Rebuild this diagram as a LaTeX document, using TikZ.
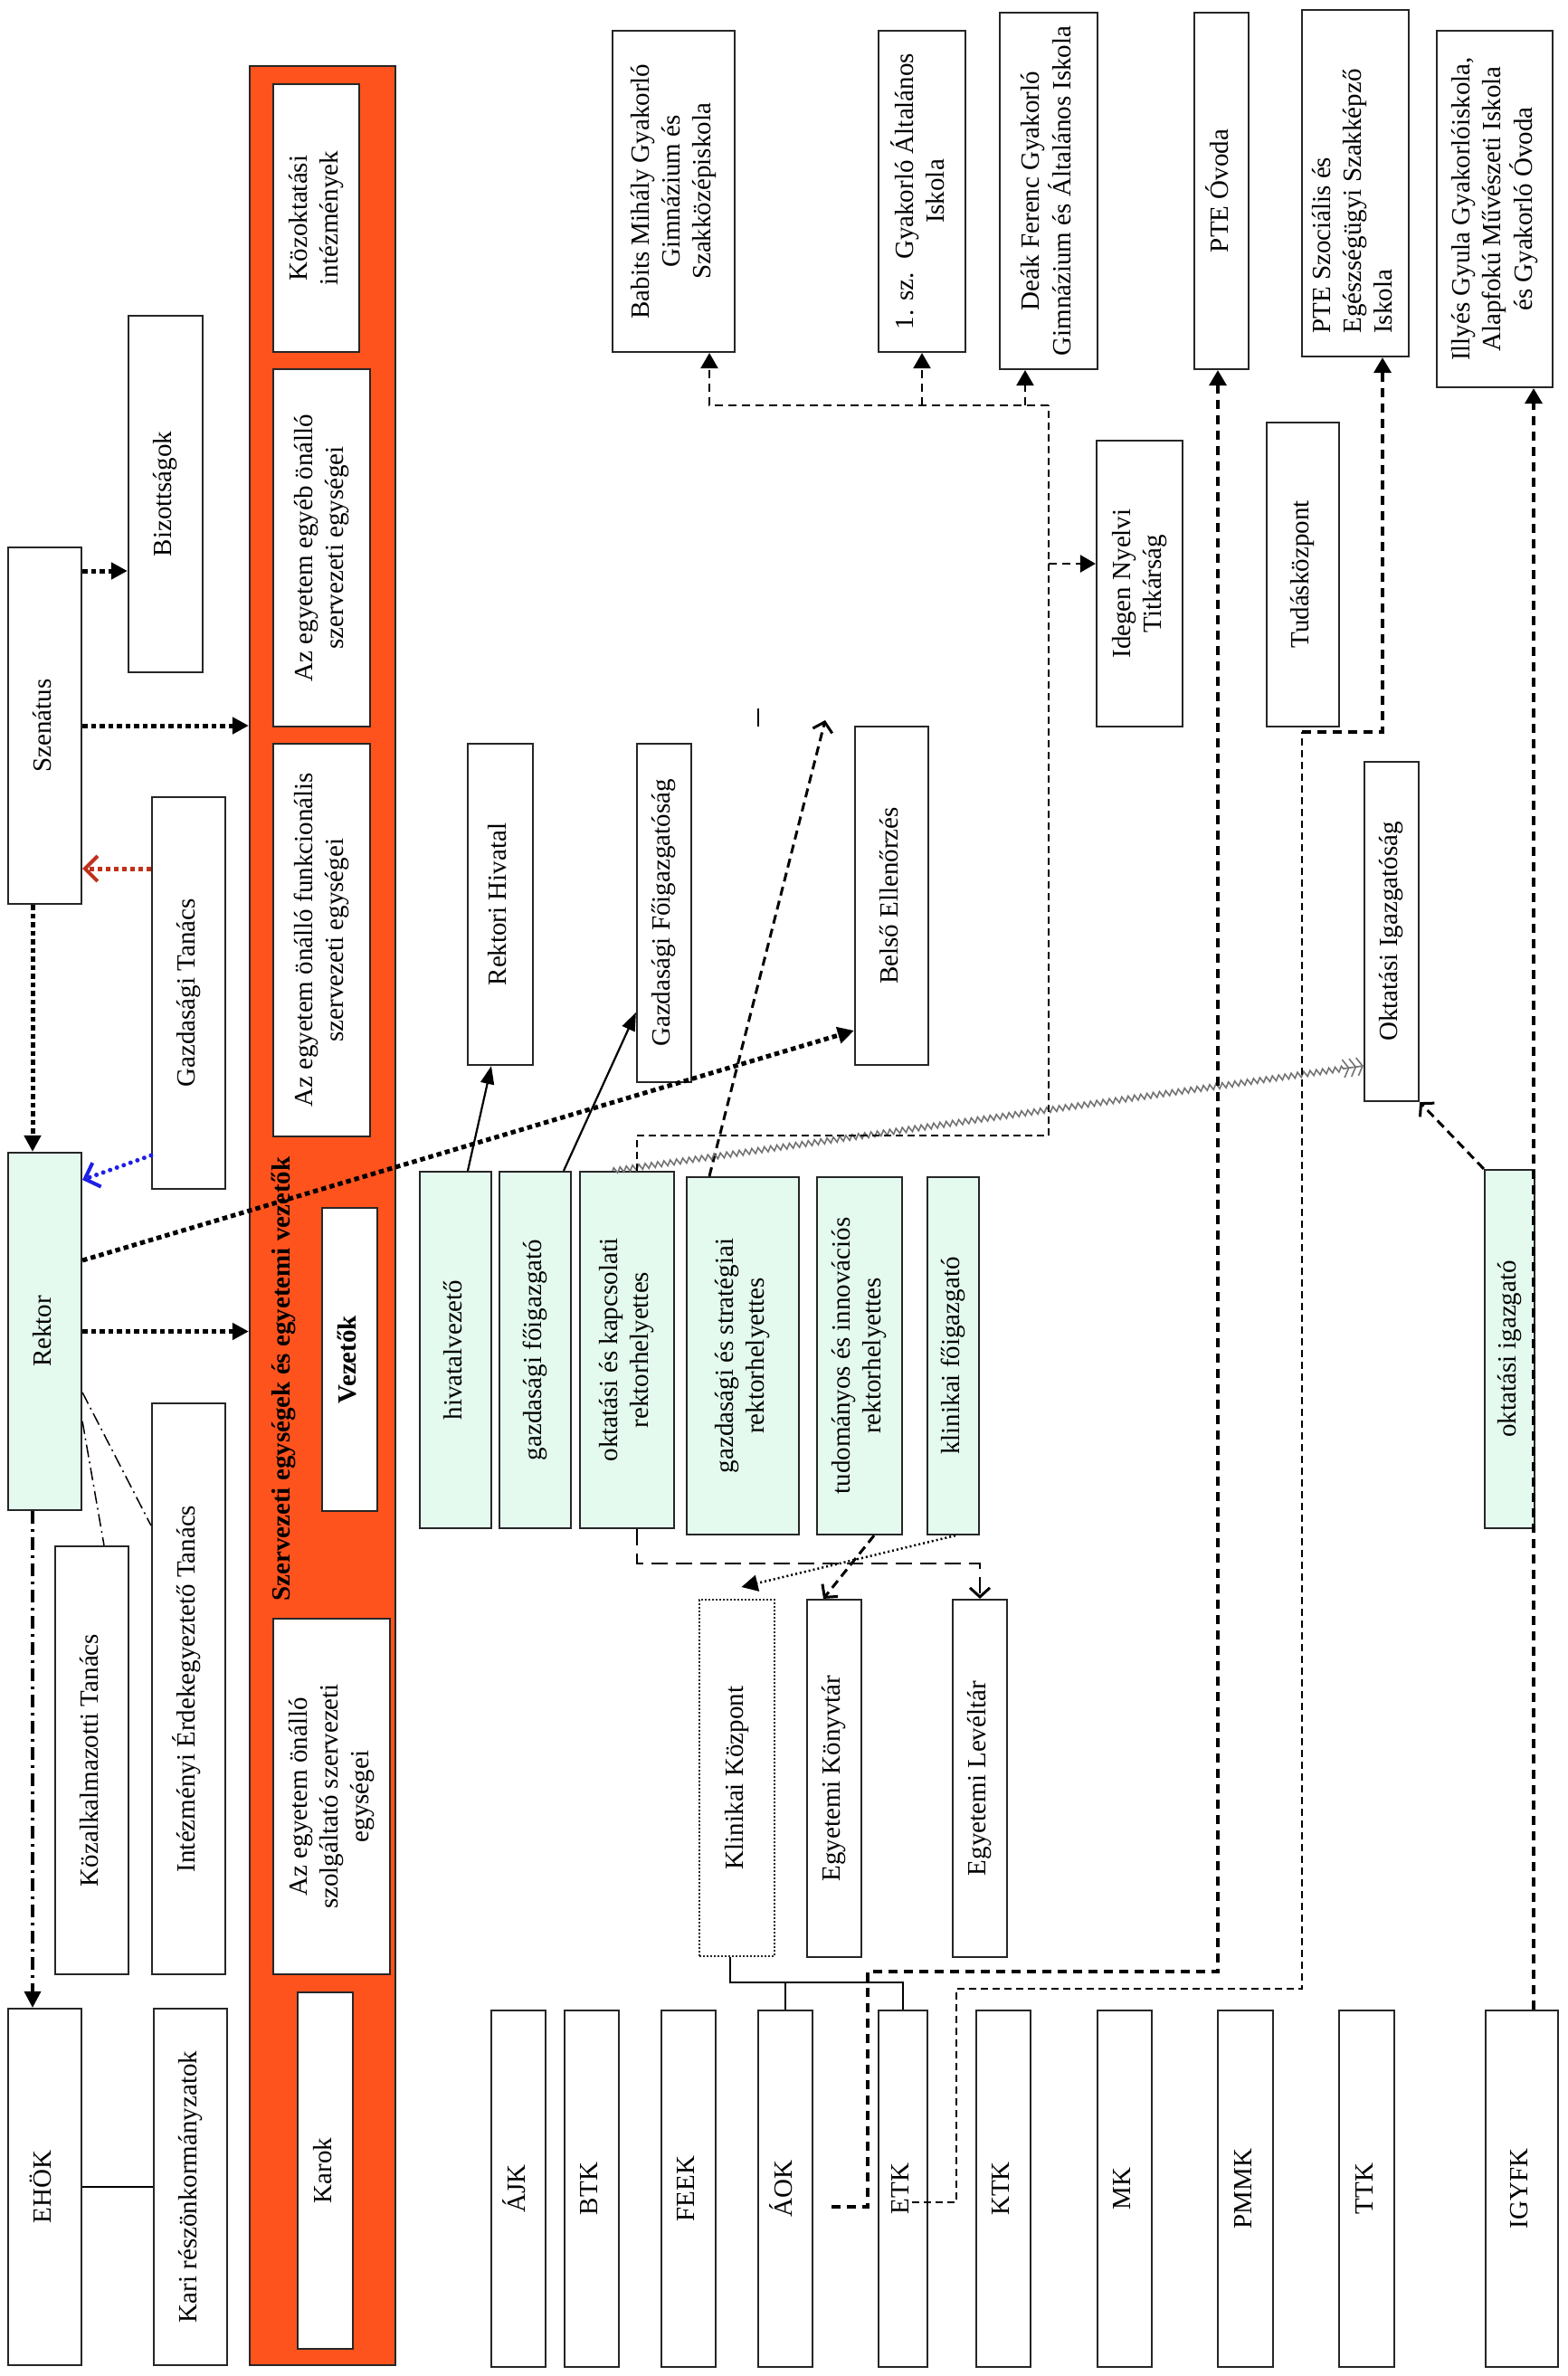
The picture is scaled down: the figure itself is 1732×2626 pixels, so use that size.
\documentclass[tikz,border=0pt]{standalone}
\usepackage{fontspec}
\setmainfont{Liberation Serif}
\usepackage{graphicx}
\usetikzlibrary{arrows.meta,calc,decorations.pathmorphing}
\definecolor{orng}{HTML}{FF531E}
\definecolor{mint}{HTML}{E4FAEF}
\definecolor{darkred}{HTML}{C0301A}
\definecolor{blu}{HTML}{1E1EE6}
\newcommand{\rt}[1]{\rotatebox{90}{\begin{tabular}{@{}c@{}}#1\end{tabular}}}
\tikzset{
  box/.style={draw=black!85, line width=2.2pt, fill=white, inner sep=0pt, rectangle, font=\fontsize{29}{34}\selectfont},
  mbox/.style={box, fill=mint},
  tdot/.style={line width=5pt, dash pattern=on 5.5pt off 4pt},
  rdot/.style={draw=darkred, line width=5pt, dash pattern=on 5pt off 4pt},
  bdot/.style={draw=blu, line width=5pt, dash pattern=on 0pt off 8pt, line cap=round},
  tri/.style={-{Triangle[length=18pt,width=18pt]}},
  stri/.style={-{Triangle[length=20pt,width=15pt]}},
  tritwo/.style={-{Triangle[length=17pt,width=19pt]}},
  rbarb/.style={-{Straight Barb[length=14pt,width=28pt,line width=4pt]}},
  bbarb/.style={-{Straight Barb[length=14pt,width=28pt,line width=4pt]}},
  vbarb/.style={-{Straight Barb[length=10pt,width=22pt,line width=3pt]}},
  dashdot/.style={line width=3.5pt, dash pattern=on 14pt off 6pt on 3pt off 6pt},
  ddd/.style={line width=1.5pt, dash pattern=on 14pt off 5pt on 2pt off 5pt},
  sol/.style={line width=2.2pt},
  dsh/.style={line width=3pt, dash pattern=on 10pt off 6pt},
  thindash/.style={line width=1.5pt, dash pattern=on 8pt off 5pt},
  meddash/.style={line width=2.5pt, dash pattern=on 9pt off 6pt},
  thkdash/.style={line width=3.5pt, dash pattern=on 10pt off 7pt},
  longdash/.style={line width=2.5pt, dash pattern=on 18pt off 9pt},
  fdot/.style={line width=2.5pt, dash pattern=on 2pt off 3pt},
  zig/.style={draw=black!55, line width=1.6pt, decoration={zigzag, amplitude=3pt, segment length=7pt, post length=20pt}, decorate,
    -{Straight Barb[length=6pt,width=20pt,line width=1.6pt] Straight Barb[length=6pt,width=20pt,line width=1.6pt] Straight Barb[length=6pt,width=20pt,line width=1.6pt]}}
}
\begin{document}
\begin{tikzpicture}[x=1pt,y=-1pt]
\useasboundingbox (0,0) rectangle (1732,2626);
% left column
\node[box, minimum width=81pt, minimum height=394pt] (sz) at (49.5,802) {\rt{Szenátus}};
\node[box, minimum width=82pt, minimum height=394pt] (biz) at (183,546) {\rt{Bizottságok}};
\node[box, minimum width=81pt, minimum height=433pt] (gt) at (208.5,1097.5) {\rt{Gazdasági Tanács}};
\node[mbox, minimum width=81pt, minimum height=395pt] (rek) at (49.5,1471.5) {\rt{Rektor}};
\node[box, minimum width=81pt, minimum height=473pt] (kt) at (101.5,1945.5) {\rt{Közalkalmazotti Tanács}};
\node[box, minimum width=81pt, minimum height=631pt] (iet) at (208.5,1866.5) {\rt{Intézményi Érdekegyeztető Tanács}};
\node[box, minimum width=81pt, minimum height=394pt] (ehok) at (49.5,2417) {\rt{EHÖK}};
\node[box, minimum width=81pt, minimum height=394pt] (kari) at (210.5,2417) {\rt{Kari részönkormányzatok}};
% orange band
\node[box, fill=orng, minimum width=161pt, minimum height=2541pt] (org) at (356.5,1343.5) {};
\node[rotate=90, anchor=base, inner sep=0pt, font=\fontsize{29}{34}\selectfont\bfseries] (ttl) at (320,1524) {Szervezeti egységek és egyetemi vezetők};
\node[box, minimum width=95pt, minimum height=296pt] (koz) at (349.5,241) {\rt{Közoktatási\\intézmények}};
\node[box, minimum width=107pt, minimum height=395pt] (egy) at (355.5,605.5) {\rt{Az egyetem egyéb önálló\\szervezeti egységei}};
\node[box, minimum width=107pt, minimum height=434pt] (fun) at (355.5,1039) {\rt{Az egyetem önálló funkcionális\\szervezeti egységei}};
\node[box, minimum width=61pt, minimum height=335pt, font=\fontsize{29}{34}\selectfont\bfseries] (vez) at (386.5,1502.5) {\rt{Vezetők}};
\node[box, minimum width=129pt, minimum height=393pt] (szo) at (366.5,1985.5) {\rt{Az egyetem önálló\\szolgáltató szervezeti\\egységei}};
\node[box, minimum width=61pt, minimum height=394pt] (kar) at (359.5,2399) {\rt{Karok}};
% middle
\node[box, minimum width=72pt, minimum height=355pt] (rh) at (553,999.5) {\rt{Rektori Hivatal}};
\node[box, minimum width=60pt, minimum height=374pt] (gfo) at (734,1009) {\rt{Gazdasági Főigazgatóság}};
\node[box, minimum width=81pt, minimum height=374pt] (bel) at (985.5,990) {\rt{Belső Ellenőrzés}};
\node[mbox, minimum width=79pt, minimum height=394pt] (hv) at (503.5,1492) {\rt{hivatalvezető}};
\node[mbox, minimum width=79pt, minimum height=394pt] (gf) at (591.5,1492) {\rt{gazdasági főigazgató}};
\node[mbox, minimum width=104pt, minimum height=394pt] (okr) at (693,1492) {\rt{oktatási és kapcsolati\\rektorhelyettes}};
\node[mbox, minimum width=124pt, minimum height=395pt] (gsr) at (821,1498.5) {\rt{gazdasági és stratégiai\\rektorhelyettes}};
\node[mbox, minimum width=94pt, minimum height=395pt] (tir) at (950,1498.5) {\rt{tudományos és innovációs\\rektorhelyettes}};
\node[mbox, minimum width=57pt, minimum height=395pt] (kf) at (1053.5,1498.5) {\rt{klinikai főigazgató}};
\node[box, line width=2pt, dash pattern=on 2pt off 2pt, minimum width=83pt, minimum height=394pt] (kk) at (814.5,1965) {\rt{Klinikai Központ}};
\node[box, minimum width=60pt, minimum height=395pt] (ek) at (922,1965.5) {\rt{Egyetemi Könyvtár}};
\node[box, minimum width=60pt, minimum height=395pt] (el) at (1083,1965.5) {\rt{Egyetemi Levéltár}};
% faculties
\node[box, minimum width=60pt, minimum height=394pt] (ajk) at (573,2419) {\rt{ÁJK}};
\node[box, minimum width=60pt, minimum height=394pt] (btk) at (654,2419) {\rt{BTK}};
\node[box, minimum width=60pt, minimum height=394pt] (feek) at (761,2419) {\rt{FEEK}};
\node[box, minimum width=60pt, minimum height=394pt] (aok) at (868,2419) {\rt{ÁOK}};
\node[box, minimum width=54pt, minimum height=394pt] (etk) at (998,2419) {\rt{ETK}};
\node[box, minimum width=60pt, minimum height=394pt] (ktk) at (1109,2419) {\rt{KTK}};
\node[box, minimum width=60pt, minimum height=394pt] (mk) at (1243,2419) {\rt{MK}};
\node[box, minimum width=61pt, minimum height=394pt] (pmmk) at (1376.5,2419) {\rt{PMMK}};
\node[box, minimum width=61pt, minimum height=394pt] (ttk) at (1510.5,2419) {\rt{TTK}};
\node[box, minimum width=80pt, minimum height=394pt] (igyfk) at (1682,2419) {\rt{IGYFK}};
% schools
\node[box, minimum width=135pt, minimum height=355pt] (bab) at (744.5,211.5) {\rt{Babits Mihály Gyakorló\\Gimnázium és\\Szakközépiskola}};
\node[box, minimum width=96pt, minimum height=355pt] (egysz) at (1019,211.5) {\rt{1. sz.\ \ Gyakorló Általános\\Iskola}};
\node[box, minimum width=108pt, minimum height=394pt] (deak) at (1159,211) {\rt{Deák Ferenc Gyakorló\\Gimnázium és Általános Iskola}};
\node[box, minimum width=60pt, minimum height=394pt] (ovo) at (1350,211) {\rt{PTE Óvoda}};
\node[box, minimum width=118pt, minimum height=383pt] (szoc) at (1498,202.5) {\rotatebox{90}{\begin{tabular}{@{}l@{\hspace{40pt}}}PTE Szociális és\\Egészségügyi Szakképző\\Iskola\end{tabular}}};
\node[box, minimum width=128pt, minimum height=394pt] (ill) at (1652,231) {\rt{Illyés Gyula Gyakorlóiskola,\\Alapfokú Művészeti Iskola\\és Gyakorló Óvoda}};
\node[box, minimum width=95pt, minimum height=316pt] (ide) at (1259.5,645) {\rt{Idegen Nyelvi\\Titkárság}};
\node[box, minimum width=80pt, minimum height=336pt] (tud) at (1440,635) {\rt{Tudásközpont}};
\node[box, minimum width=60pt, minimum height=375pt] (oig) at (1538,1029.5) {\rt{Oktatási Igazgatóság}};
\node[mbox, minimum width=55pt, minimum height=396pt] (oi) at (1668.5,1491) {\rt{oktatási igazgató}};
% connectors left
\draw[tdot, tri] (sz.east |- 0,631) -- (biz.west |- 0,631);
\draw[tdot, tri] (sz.east) -- (org.west |- sz.east);
\draw[rdot, rbarb] (gt.west |- 0,960) -- (sz.east |- 0,960);
\draw[tdot, tri] (sz.south -| 36,0) -- (rek.north -| 36,0);
\draw[bdot, bbarb] (gt.west |- 0,1277) -- (rek.east |- 0,1304);
\draw[tdot, tri] (rek.east) -- (org.west |- rek.east);
\draw[tdot, tri] (rek.east |- 0,1393) -- (bel.west |- 0,1139);
\draw[dashdot, tri] (rek.south -| 36,0) -- (ehok.north -| 36,0);
\draw[ddd] (rek.east |- 0,1539) -- (iet.west |- 0,1686);
\draw[ddd] (rek.east |- 0,1571) -- (kt.north -| 115,0);
\draw[sol] (ehok) -- (kari);
% middle connectors
\draw[sol, stri] (hv.north -| 517,0) -- (rh.south -| 543,0);
\draw[sol, stri] (gf.north -| 623,0) -- (gfo.west |- 0,1119);
\coordinate (gsend) at (912,796);
\draw[dsh, vbarb] (gsr.north -| 784,0) -- (gsend);
\coordinate (tka) at (838,783);
\coordinate (tkb) at (838,803);
\draw[line width=2pt] (tka) -- (tkb);
\draw[zig] (okr.north -| 677,0) -- (oig.west |- 0,1178);
% network to schools
\coordinate (ja) at (1159,448);
\coordinate (jb) at (1159,623);
\coordinate (jd) at (1133,448);
\draw[thindash] (okr.north -| 704,0) |- (1159,1255) -- (ja);
\draw[meddash, tritwo] (ja) -| (bab.south -| 784,0);
\draw[meddash, tritwo] (egysz.south |- ja) -- (egysz.south);
\draw[meddash, tritwo] (jd) -- (deak.south -| jd);
\draw[meddash, tritwo] (jb) -- (ide.west |- jb);
\draw[thkdash, tritwo] ($(aok.east)+(20,20)$) -- ++(40,0) |- (1346,2179) -- (ovo.south -| 1346,0);
\coordinate (jc) at (1439,809);
\draw[thindash] ($(etk.east)+(-18,15)$) -- ++(49,0) |- (1439,2198) -- (jc);
\draw[thkdash, tritwo] (jc) -| (szoc.south -| 1528,0);
\draw[thkdash, tritwo] (igyfk.north -| 1695,0) -- (ill.south -| 1695,0);
\draw[dsh, vbarb] (oi.north west) -- (oig.south east);
% lower middle
\draw[longdash, vbarb] (okr.south -| 704,0) |- (1083,1728) -- (el.north);
\draw[dsh, vbarb] (tir.south -| 966,0) -- (ek.north -| 910,0);
\draw[fdot, tri] (kf.south -| 1056,0) -- ($(kk.north)+(5,-13)$);
\draw[sol] (kk.south -| 807,0) -- (807,2191) -| (etk.north);
\draw[sol] (aok.north) -- (aok.north |- 0,2191);
\end{tikzpicture}
\end{document}
